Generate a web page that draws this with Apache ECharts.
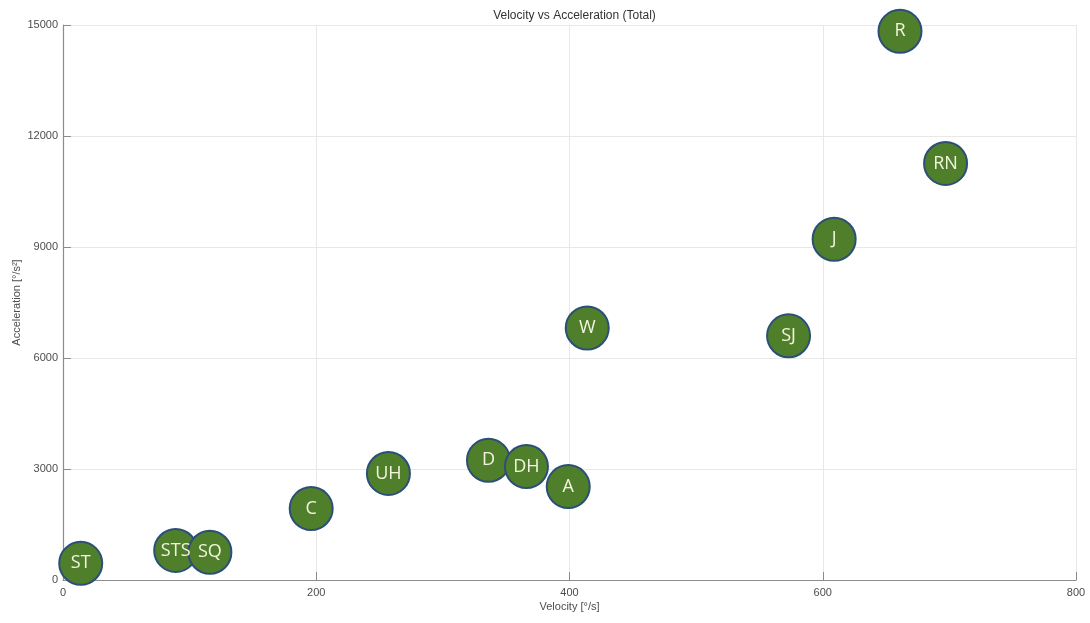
<!DOCTYPE html>
<html>
<head>
<meta charset="utf-8">
<script src="https://cdn.jsdelivr.net/npm/echarts@6/dist/echarts.min.js"></script>
<style>
  html, body { margin: 0; padding: 0; background: #ffffff; }
  #chart { width: 1090px; height: 623px; }
</style>
</head>
<body>
<div id="chart"></div>
<script>
// Movement labels with their peak velocity (°/s) and acceleration (°/s²)
const names = ['R', 'RN', 'J', 'W', 'SJ', 'D', 'DH', 'A', 'UH', 'C', 'STS', 'SQ', 'ST'];
const velocity = [661, 697, 609, 414, 573, 336, 366, 399, 257, 196, 89, 116, 14];
const acceleration = [14830, 11260, 9210, 6810, 6600, 3235, 3065, 2525, 2880, 1930, 800, 750, 450];

const xTicks = { min: 0, max: 800, step: 200 };
const yTicks = { min: 0, max: 15000, step: 3000 };

const points = names.map((n, i) => [velocity[i], acceleration[i], n]);

const axisGray = '#8c8c8c';
const textGray = '#4d4d4d';
const gridGray = '#e8e8e8';
const font = 'Liberation Sans, Arial, sans-serif';

const chart = echarts.init(document.getElementById('chart'), null, { renderer: 'canvas' });
chart.setOption({
  backgroundColor: '#ffffff',
  animation: false,
  title: {
    text: 'Velocity vs Acceleration (Total)',
    left: 569.5,
    textAlign: 'center',
    top: 5,
    textStyle: { fontFamily: font, fontSize: 12, fontWeight: 'normal', color: '#333333' }
  },
  grid: { left: 63, right: 14, top: 25, bottom: 43, containLabel: false, outerBoundsMode: 'none' },
  xAxis: {
    type: 'value',
    min: xTicks.min, max: xTicks.max, interval: xTicks.step,
    name: 'Velocity [°/s]',
    nameLocation: 'middle',
    nameGap: 21,
    nameMoveOverlap: false,
    nameTextStyle: { fontFamily: font, fontSize: 11, color: textGray },
    axisLine: { show: true, onZero: false, lineStyle: { color: axisGray, width: 1.2 } },
    axisTick: { show: true, inside: true, length: 8, lineStyle: { color: axisGray } },
    axisLabel: { fontFamily: font, fontSize: 11, color: textGray, margin: 7, formatter: v => String(v) },
    splitLine: { show: true, lineStyle: { color: gridGray, width: 1 } }
  },
  yAxis: {
    type: 'value',
    min: yTicks.min, max: yTicks.max, interval: yTicks.step,
    name: 'Acceleration [°/s²]',
    nameLocation: 'middle',
    nameGap: 41,
    nameMoveOverlap: false,
    nameRotate: 90,
    nameTextStyle: { fontFamily: font, fontSize: 11, color: textGray },
    axisLine: { show: true, onZero: false, lineStyle: { color: axisGray, width: 1.2 } },
    axisTick: { show: true, inside: true, length: 8, lineStyle: { color: axisGray } },
    axisLabel: { fontFamily: font, fontSize: 11, color: textGray, margin: 5, formatter: v => String(v) },
    splitLine: { show: true, lineStyle: { color: gridGray, width: 1 } }
  },
  series: [{
    type: 'scatter',
    data: points,
    symbol: 'circle',
    symbolSize: 43,
    clip: false,
    itemStyle: {
      color: '#4f7f2a',
      borderColor: '#2c4f77',
      borderWidth: 2,
      opacity: 1
    },
    label: {
      show: true,
      position: 'inside',
      formatter: p => p.data[2],
      fontFamily: 'Open Sans, Noto Sans, sans-serif',
      fontSize: 18,
      color: '#f4f4e0'
    }
  }]
});
</script>
</body>
</html>
